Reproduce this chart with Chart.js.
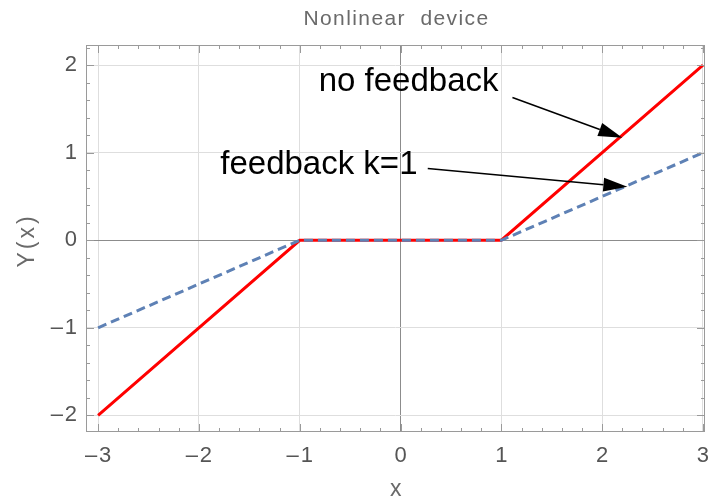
<!DOCTYPE html>
<html lang="en">
<head>
    <meta charset="UTF-8">
    <title>Nonlinear device</title>
    <script src="https://cdn.jsdelivr.net/npm/chart.js"></script>
    <style>
        html, body { margin: 0; padding: 0; background: white; }
        .chart-box { width: 709px; height: 504px; }
    </style>
</head>
<body>
    <div class="chart-box">
        <canvas id="deviceChart"></canvas>
    </div>
    <script>
        // Data
        const xPoints = [-3, -1, 1, 3];
        const noFeedback = [-2, 0, 0, 2];
        const feedbackK1 = [-1, 0, 0, 1];
        const xTickValues = [-3, -2, -1, 0, 1, 2, 3];
        const yTickValues = [-2, -1, 0, 1, 2];

        // Text labels with arrows (data coordinates)
        const notes = [
            { text: 'no feedback', at: [0.08, 1.81], from: [1.11, 1.63], to: [2.2, 1.17] },
            { text: 'feedback k=1', at: [-0.81, 0.86], from: [0.27, 0.82], to: [2.25, 0.61] }
        ];

        const FONT = '"Liberation Sans", Arial, sans-serif';
        // long dash + hair space, closer to the wide minus of the original
        const tickLabel = v => v < 0 ? '\u2013\u200a' + (-v) : String(v);

        // Mathematica-like frame with inside ticks, titles and arrow labels
        const framePlugin = {
            id: 'frame',
            afterDatasetsDraw(chart) {
                const { ctx, chartArea: a, scales: { x, y } } = chart;
                ctx.save();
                ctx.strokeStyle = '#9a9a9a';
                ctx.lineWidth = 1;
                ctx.strokeRect(a.left + 0.5, a.top + 0.5, a.right - a.left - 1, a.bottom - a.top - 1);
                ctx.beginPath();
                for (let i = -15; i <= 15; i++) {
                    const v = i / 5;
                    const len = i % 5 === 0 ? 8 : 4;
                    if (v >= x.min && v <= x.max) {
                        const px = Math.round(x.getPixelForValue(v)) + 0.5;
                        ctx.moveTo(px, a.bottom); ctx.lineTo(px, a.bottom - len);
                        ctx.moveTo(px, a.top); ctx.lineTo(px, a.top + len);
                    }
                    if (v >= y.min && v <= y.max) {
                        const py = Math.round(y.getPixelForValue(v)) + 0.5;
                        ctx.moveTo(a.left, py); ctx.lineTo(a.left + len, py);
                        ctx.moveTo(a.right, py); ctx.lineTo(a.right - len, py);
                    }
                }
                ctx.stroke();

                // titles
                ctx.fillStyle = '#6a6a6a';
                ctx.textAlign = 'center';
                ctx.textBaseline = 'middle';
                ctx.letterSpacing = '1.4px';
                ctx.font = '21px ' + FONT;
                ctx.fillText('Nonlinear  device', (a.left + a.right) / 2 + 1, 19);
                ctx.font = '23px ' + FONT;
                ctx.fillText('x', (a.left + a.right) / 2 + 1, 490);
                ctx.save();
                ctx.translate(28, (a.top + a.bottom) / 2 + 2);
                ctx.rotate(-Math.PI / 2);
                ctx.letterSpacing = '3px';
                ctx.fillText('Y(x)', 0, 0);
                ctx.restore();
                ctx.letterSpacing = '0px';

                // annotations
                ctx.fillStyle = '#000';
                ctx.strokeStyle = '#000';
                ctx.font = '33px ' + FONT;
                notes.forEach(n => {
                    ctx.fillText(n.text, x.getPixelForValue(n.at[0]), y.getPixelForValue(n.at[1]));
                    const x0 = x.getPixelForValue(n.from[0]), y0 = y.getPixelForValue(n.from[1]);
                    const x1 = x.getPixelForValue(n.to[0]), y1 = y.getPixelForValue(n.to[1]);
                    const ang = Math.atan2(y1 - y0, x1 - x0);
                    const hl = 24, hw = 7;
                    const bx = x1 - hl * Math.cos(ang), by = y1 - hl * Math.sin(ang);
                    ctx.lineWidth = 1.5;
                    ctx.beginPath();
                    ctx.moveTo(x0, y0); ctx.lineTo(bx, by);
                    ctx.stroke();
                    ctx.beginPath();
                    ctx.moveTo(x1, y1);
                    ctx.lineTo(bx - hw * Math.sin(ang), by + hw * Math.cos(ang));
                    ctx.lineTo(bx + hw * Math.sin(ang), by - hw * Math.cos(ang));
                    ctx.closePath();
                    ctx.fill();
                });
                ctx.restore();
            }
        };

        const gridColor = ctx => ctx.tick && ctx.tick.value === 0 ? '#8c8c8c' : '#dedede';

        new Chart(document.getElementById('deviceChart'), {
            type: 'line',
            data: {
                datasets: [{
                    label: 'no feedback',
                    data: xPoints.map((v, i) => ({ x: v, y: noFeedback[i] })),
                    borderColor: '#ff0000',
                    borderWidth: 3,
                    pointRadius: 0,
                    tension: 0,
                    order: 2
                }, {
                    label: 'feedback k=1',
                    data: xPoints.map((v, i) => ({ x: v, y: feedbackK1[i] })),
                    borderColor: '#5e81b5',
                    borderWidth: 3,
                    borderDash: [9, 5],
                    pointRadius: 0,
                    tension: 0,
                    order: 1
                }]
            },
            options: {
                responsive: true,
                maintainAspectRatio: false,
                animation: false,
                layout: { padding: { top: 45, right: 4 } },
                plugins: {
                    legend: { display: false },
                    tooltip: { enabled: false },
                    title: { display: false }
                },
                scales: {
                    x: {
                        type: 'linear',
                        min: -3.12,
                        max: 3.02,
                        afterBuildTicks: s => { s.ticks = xTickValues.map(v => ({ value: v })); },
                        afterFit: s => { s.height = 72; s.paddingLeft = 0; s.paddingRight = 0; },
                        grid: { color: gridColor, drawTicks: false },
                        border: { display: false },
                        ticks: {
                            color: '#555',
                            padding: 11,
                            maxRotation: 0,
                            font: { family: FONT, size: 22 },
                            callback: v => tickLabel(v)
                        }
                    },
                    y: {
                        type: 'linear',
                        min: -2.19,
                        max: 2.23,
                        afterBuildTicks: s => { s.ticks = yTickValues.map(v => ({ value: v })); },
                        afterFit: s => { s.width = 86; s.paddingTop = 0; s.paddingBottom = 0; },
                        grid: { color: gridColor, drawTicks: false },
                        border: { display: false },
                        ticks: {
                            color: '#555',
                            padding: 9,
                            font: { family: FONT, size: 22 },
                            callback: v => tickLabel(v)
                        }
                    }
                }
            },
            plugins: [framePlugin]
        });
    </script>
</body>
</html>
